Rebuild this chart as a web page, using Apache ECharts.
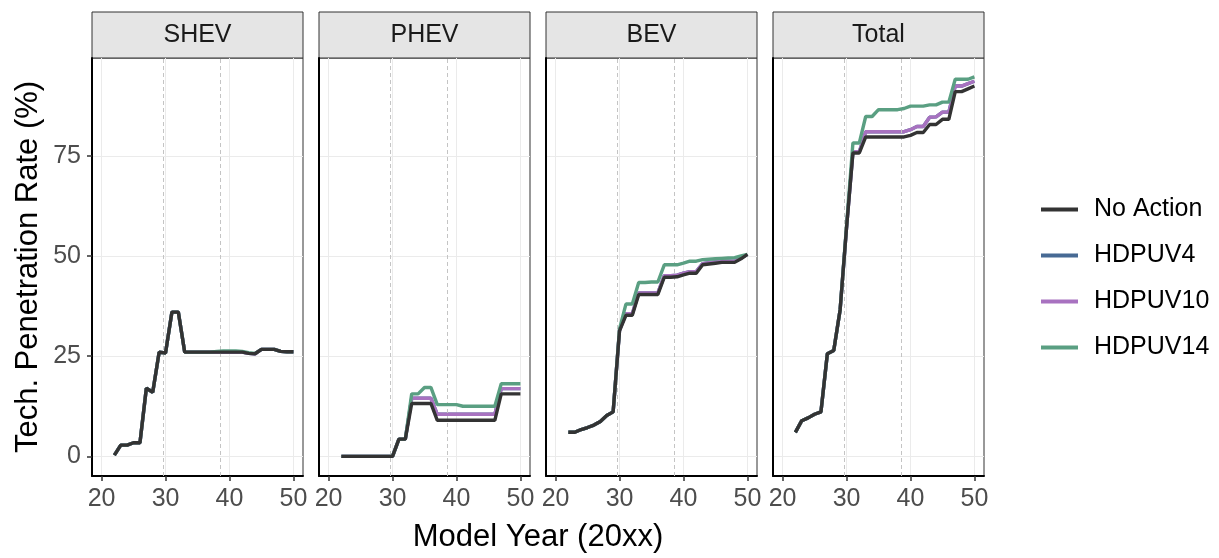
<!DOCTYPE html>
<html>
<head>
<meta charset="utf-8">
<script src="https://cdn.jsdelivr.net/npm/echarts@6/dist/echarts.min.js"></script>
<style>html,body{margin:0;padding:0;background:#fff;}#c{width:1219px;height:558px;}</style>
</head>
<body>
<div id="c"></div>
<script>
// ---- data ----
const years = [22,23,24,25,26,27,28,29,30,31,32,33,34,35,36,37,38,39,40,41,42,43,44,45,46,47,48,49,50];
const panels = ['SHEV','PHEV','BEV','Total'];
const scenarios = ['No Action','HDPUV4','HDPUV10','HDPUV14'];
const xTicks = [20,30,40,50];
const yTicks = [0,25,50,75];
const refYears = [29.6, 38.6];

const shevNoAction = [0.3,2.8,2.8,3.4,3.4,17,16,26,25.8,36,36,26,26,26,26,26,26,26,26,26,26,25.7,25.6,26.7,26.7,26.7,26.2,26.1,26.1];
const shevHDPUV4   = [0.3,2.8,2.8,3.4,3.4,17,16,26,25.8,36,36,26,26,26,26,26,26,26,26,26,26,25.7,25.6,26.7,26.7,26.7,26.2,26.1,26.1];
const shevHDPUV10  = [0.3,2.8,2.8,3.4,3.4,17,16,26,25.8,36,36,26,26,26,26,26,26,26,26,26,26,25.7,25.6,26.7,26.7,26.7,26.2,26.1,26.1];
const shevHDPUV14  = [0.3,2.8,2.8,3.4,3.4,17,16,26,25.8,36,36,26,26,26,26,26,26.2,26.3,26.3,26.3,26.2,25.9,25.7,26.7,26.7,26.7,26.2,26.1,26.1];

const phevNoAction = [0,0,0,0,0,0,0,0,0,4.3,4.3,13.2,13.2,13.2,13.2,9.0,9.0,9.0,9.0,9.0,9.0,9.0,9.0,9.0,9.0,15.6,15.6,15.6,15.6];
const phevHDPUV4   = [0,0,0,0,0,0,0,0,0,4.3,4.3,14.5,14.5,14.5,14.5,10.5,10.5,10.5,10.5,10.5,10.5,10.5,10.5,10.5,10.5,16.9,16.9,16.9,16.9];
const phevHDPUV10  = [0,0,0,0,0,0,0,0,0,4.3,4.3,14.5,14.5,14.5,14.5,10.5,10.5,10.5,10.5,10.5,10.5,10.5,10.5,10.5,10.5,16.9,16.9,16.9,16.9];
const phevHDPUV14  = [0,0,0,0,0,0,0,0,0,4.3,4.3,15.6,15.6,17.2,17.2,12.9,12.9,12.9,12.9,12.5,12.5,12.5,12.5,12.5,12.5,18.1,18.1,18.1,18.1];

const bevNoAction = [6.0,6.0,6.7,7.2,7.8,8.7,10.2,11.1,31.3,35.2,35.2,40.4,40.4,40.4,40.4,44.7,44.7,44.8,45.3,45.7,45.7,47.8,48.0,48.2,48.4,48.4,48.4,49.3,50.4];
const bevHDPUV4   = [6.0,6.0,6.7,7.2,7.8,8.7,10.2,11.1,31.5,35.6,35.6,40.8,40.8,40.8,40.8,45.1,45.1,45.2,45.7,46.1,46.1,48.1,48.3,48.5,48.7,48.7,48.7,49.5,50.4];
const bevHDPUV10  = [6.0,6.0,6.7,7.2,7.8,8.7,10.2,11.1,31.5,35.6,35.6,40.8,40.8,40.8,40.8,45.1,45.1,45.2,45.7,46.1,46.1,48.1,48.3,48.5,48.7,48.7,48.7,49.5,50.4];
const bevHDPUV14  = [6.0,6.0,6.7,7.2,7.8,8.7,10.2,11.1,31.8,38.0,38.0,43.4,43.4,43.5,43.5,47.8,47.8,47.8,48.2,48.7,48.7,49.1,49.2,49.3,49.4,49.5,49.6,50.0,50.4];

const totNoAction = [6.0,8.9,9.6,10.5,11.1,25.6,26.4,36.6,57.0,75.7,75.7,79.7,79.7,79.7,79.7,79.7,79.7,79.7,80.1,80.8,80.8,82.8,82.8,84.1,84.1,91.0,91.0,91.7,92.4];
const totHDPUV4   = [6.0,8.9,9.6,10.5,11.1,25.6,26.4,36.6,57.0,76.0,76.0,81.0,81.0,81.0,81.0,81.0,81.0,81.0,81.5,82.3,82.3,84.6,84.7,85.9,85.9,92.4,92.4,93.0,93.6];
const totHDPUV10  = [6.0,8.9,9.6,10.5,11.1,25.6,26.4,36.6,57.0,76.0,76.0,81.0,81.0,81.0,81.0,81.0,81.0,81.0,81.5,82.3,82.3,84.6,84.7,85.9,85.9,92.4,92.4,93.0,93.6];
const totHDPUV14  = [6.0,8.9,9.6,10.5,11.1,25.6,26.4,36.6,57.5,78.2,78.2,84.8,84.8,86.5,86.5,86.5,86.5,86.8,87.4,87.4,87.4,87.7,87.7,88.4,88.4,94.1,94.1,94.1,94.7];

const panelData = [
  {'No Action': shevNoAction, 'HDPUV4': shevHDPUV4, 'HDPUV10': shevHDPUV10, 'HDPUV14': shevHDPUV14},
  {'No Action': phevNoAction, 'HDPUV4': phevHDPUV4, 'HDPUV10': phevHDPUV10, 'HDPUV14': phevHDPUV14},
  {'No Action': bevNoAction, 'HDPUV4': bevHDPUV4, 'HDPUV10': bevHDPUV10, 'HDPUV14': bevHDPUV14},
  {'No Action': totNoAction, 'HDPUV4': totHDPUV4, 'HDPUV10': totHDPUV10, 'HDPUV14': totHDPUV14}
];

// ---- styles ----
const colors = {'No Action':'#333333','HDPUV4':'#476a94','HDPUV10':'#a872c0','HDPUV14':'#5a9f82'};
const drawOrder = ['HDPUV4','HDPUV10','HDPUV14','No Action'];
const FONT = 'Liberation Sans, Arial, sans-serif';
const gridLeft0 = 92, gridStep = 227, gridW = 211, gridTop = 58, gridH = 418;
const stripTop = 12, stripH = gridTop - stripTop;

const grids = [], xAxes = [], yAxes = [], series = [], graphics = [];
panels.forEach((p, i) => {
  const left = gridLeft0 + gridStep * i;
  grids.push({left: left, top: gridTop, width: gridW, height: gridH, show: true,
    borderColor: '#333333', borderWidth: 1, backgroundColor: '#ffffff', containLabel: false});
  xAxes.push({type: 'value', gridIndex: i, min: 18.5, max: 51.5,
    axisLine: {show: true, onZero: false, lineStyle: {color: '#000', width: 2}},
    axisTick: {show: true, length: 5, customValues: xTicks, lineStyle: {color: '#333', width: 1.5}},
    axisLabel: {show: true, customValues: xTicks, margin: 11, color: '#4d4d4d', fontSize: 25, fontFamily: FONT},
    splitLine: {show: true, lineStyle: {color: '#ebebeb', width: 1}}
  });
  yAxes.push({type: 'value', gridIndex: i, min: -4.9, max: 99.4,
    axisLine: {show: true, onZero: false, lineStyle: {color: '#000', width: 2}},
    axisTick: {show: i === 0, length: 5, customValues: yTicks, lineStyle: {color: '#333', width: 1.5}},
    axisLabel: {show: i === 0, customValues: yTicks, margin: 11, color: '#4d4d4d', fontSize: 25, fontFamily: FONT},
    splitLine: {show: true, lineStyle: {color: '#ebebeb', width: 1}}
  });
  drawOrder.forEach((s, k) => {
    const vals = panelData[i][s];
    const ser = {
      name: s, type: 'line', xAxisIndex: i, yAxisIndex: i,
      data: years.map((y, j) => [y, vals[j]]),
      showSymbol: false, symbol: 'none', smooth: false,
      lineStyle: {color: colors[s], width: 3.4},
      itemStyle: {color: colors[s]},
      z: 3 + k, animation: false
    };
    if (k === 0) {
      ser.markLine = {silent: true, symbol: 'none', label: {show: false}, animation: false,
        lineStyle: {type: [4, 3], color: '#c4c4c4', width: 1},
        data: refYears.map(v => ({xAxis: v}))};
    }
    series.push(ser);
  });
  graphics.push({type: 'rect', shape: {x: left, y: stripTop, width: gridW, height: stripH},
    style: {fill: '#e5e5e5', stroke: '#333333', lineWidth: 1}, silent: true});
  graphics.push({type: 'text', x: left + gridW / 2, y: stripTop + stripH / 2,
    style: {text: p, fill: '#1a1a1a', font: '25px ' + FONT, textAlign: 'center', textVerticalAlign: 'middle'}, silent: true});
});

graphics.push({type: 'text', x: 28, y: gridTop + gridH / 2, rotation: Math.PI / 2,
  style: {text: 'Tech. Penetration Rate (%)', fill: '#000', font: '31px ' + FONT, textAlign: 'center', textVerticalAlign: 'middle'}, silent: true});
graphics.push({type: 'text', x: (gridLeft0 + gridLeft0 + gridStep * 3 + gridW) / 2, y: 537,
  style: {text: 'Model Year (20xx)', fill: '#000', font: '31px ' + FONT, textAlign: 'center', textVerticalAlign: 'middle'}, silent: true});

const chart = echarts.init(document.getElementById('c'), null, {renderer: 'canvas'});
chart.setOption({
  animation: false,
  backgroundColor: '#ffffff',
  grid: grids, xAxis: xAxes, yAxis: yAxes, series: series,
  legend: {
    data: scenarios, orient: 'vertical', left: 1036, top: 192, itemGap: 21,
    itemWidth: 37, itemHeight: 4, icon: 'rect',
    textStyle: {fontSize: 25, fontFamily: FONT, color: '#000', lineHeight: 25, padding: [0, 0, 0, 11]},
    selectedMode: false
  },
  graphic: graphics
});
</script>
</body>
</html>
